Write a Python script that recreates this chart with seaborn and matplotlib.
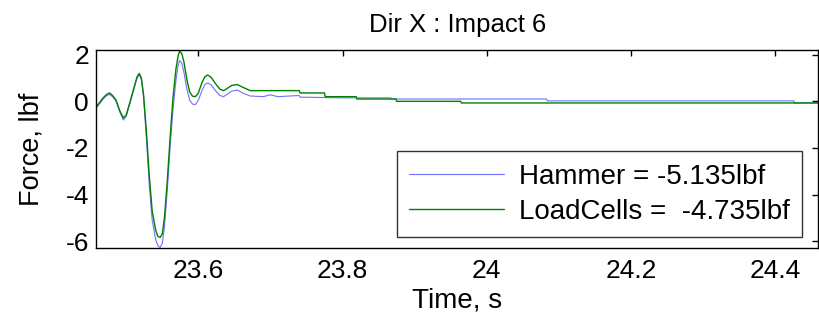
import pandas as pd
import seaborn as sns
import matplotlib.pyplot as plt

# Hammer force trace
hammer_t = [23.458, 23.463, 23.468, 23.473, 23.477, 23.481, 23.486, 23.491, 23.496, 23.500,
            23.505, 23.510, 23.515, 23.518, 23.521, 23.524, 23.528, 23.532, 23.536, 23.541,
            23.544, 23.547, 23.550, 23.553, 23.557, 23.561, 23.565, 23.569, 23.572, 23.574,
            23.577, 23.580, 23.584, 23.588, 23.592, 23.596, 23.600, 23.605, 23.609, 23.613,
            23.618, 23.624, 23.630, 23.635, 23.640, 23.646, 23.654, 23.662, 23.672, 23.690,
            23.700, 23.710, 23.740, 23.741, 23.800, 23.867, 23.868, 24.083, 24.084, 24.426,
            24.427, 24.460]
hammer_f = [-0.30, -0.10, 0.10, 0.25, 0.30, 0.20, 0.00, -0.45, -0.80, -0.65,
            -0.10, 0.45, 1.00, 1.15, 0.95, 0.20, -1.60, -3.60, -5.10, -5.95,
            -6.20, -6.27, -6.10, -5.40, -3.80, -1.90, -0.30, 0.90, 1.55, 1.75,
            1.65, 1.25, 0.55, 0.05, -0.12, -0.14, 0.05, 0.45, 0.72, 0.79,
            0.70, 0.45, 0.25, 0.20, 0.30, 0.43, 0.49, 0.35, 0.23, 0.20,
            0.28, 0.20, 0.25, 0.18, 0.15, 0.15, 0.10, 0.10, 0.02, 0.02,
            -0.07, -0.07]

# Load cell force trace
load_t = [23.458, 23.463, 23.468, 23.473, 23.477, 23.481, 23.486, 23.491, 23.496, 23.500,
          23.505, 23.510, 23.515, 23.518, 23.521, 23.524, 23.528, 23.532, 23.536, 23.541,
          23.544, 23.547, 23.550, 23.553, 23.557, 23.561, 23.565, 23.569, 23.572, 23.574,
          23.577, 23.580, 23.584, 23.588, 23.592, 23.596, 23.600, 23.605, 23.609, 23.613,
          23.618, 23.624, 23.630, 23.635, 23.640, 23.646, 23.654, 23.662, 23.672, 23.740,
          23.741, 23.775, 23.776, 23.819, 23.820, 23.874, 23.875, 23.964, 23.965, 24.460]
load_f = [-0.26, -0.05, 0.15, 0.30, 0.36, 0.25, 0.05, -0.40, -0.71, -0.58,
          -0.05, 0.50, 1.05, 1.20, 1.00, 0.30, -1.30, -3.20, -4.70, -5.55,
          -5.80, -5.84, -5.70, -5.00, -3.40, -1.50, 0.20, 1.40, 1.95, 2.15,
          2.05, 1.70, 0.95, 0.40, 0.22, 0.20, 0.35, 0.80, 1.05, 1.13,
          1.02, 0.75, 0.52, 0.46, 0.55, 0.68, 0.72, 0.60, 0.46, 0.46,
          0.36, 0.36, 0.20, 0.20, 0.10, 0.10, 0.00, 0.00, -0.07, -0.07]

labels = ['Hammer = -5.135lbf', 'LoadCells =  -4.735lbf']
colors = ['#7070ff', '#008000']

df = pd.concat([
    pd.DataFrame({'t': hammer_t, 'f': hammer_f, 'sig': labels[0]}),
    pd.DataFrame({'t': load_t, 'f': load_f, 'sig': labels[1]}),
])

sns.set_style('white')
plt.rcParams['font.family'] = ['Liberation Sans', 'DejaVu Sans']
plt.rcParams['axes.unicode_minus'] = False
for k in ['text.color', 'axes.labelcolor', 'xtick.color', 'ytick.color']:
    plt.rcParams[k] = 'black'

fig = plt.figure(figsize=(8.2, 3.21), dpi=100)
ax = fig.add_axes([0.117, 0.227, 0.881, 0.617])
sns.lineplot(data=df, x='t', y='f', hue='sig', palette=colors, sort=False,
             estimator=None, ax=ax)
for line, lw in zip(ax.get_lines(), [0.8, 1.0]):
    line.set_linewidth(lw)

ax.set_xlim(23.458, 24.46)
ax.set_ylim(-6.3, 2.2)
ax.set_xticks([23.6, 23.8, 24.0, 24.2, 24.4])
ax.set_xticklabels(['23.6', '23.8', '24', '24.2', '24.4'])
ax.set_yticks([2, 0, -2, -4, -6])
ax.tick_params(direction='in', length=4, width=1, labelsize=19,
               top=True, right=True, pad=5)
ax.tick_params(axis='x', pad=8)
for s in ax.spines.values():
    s.set_color('black')
    s.set_linewidth(1)

ax.set_title('Dir X : Impact 6', fontsize=18.5, pad=13)
ax.set_xlabel('Time, s', fontsize=20, labelpad=3)
ax.set_ylabel('Force, lbf', fontsize=19.5, labelpad=15)

leg = ax.legend(loc='lower right', bbox_to_anchor=(0.978, 0.056), fontsize=20,
                frameon=True, fancybox=False, edgecolor='black', handlelength=3.4,
                handletextpad=0.55, labelspacing=0.32, borderpad=0.45,
                borderaxespad=0, title=None)
leg.get_frame().set_linewidth(1)
for h, lw in zip(leg.get_lines(), [0.8, 1.0]):
    h.set_linewidth(lw)

fig.savefig('out.png', dpi=100)
